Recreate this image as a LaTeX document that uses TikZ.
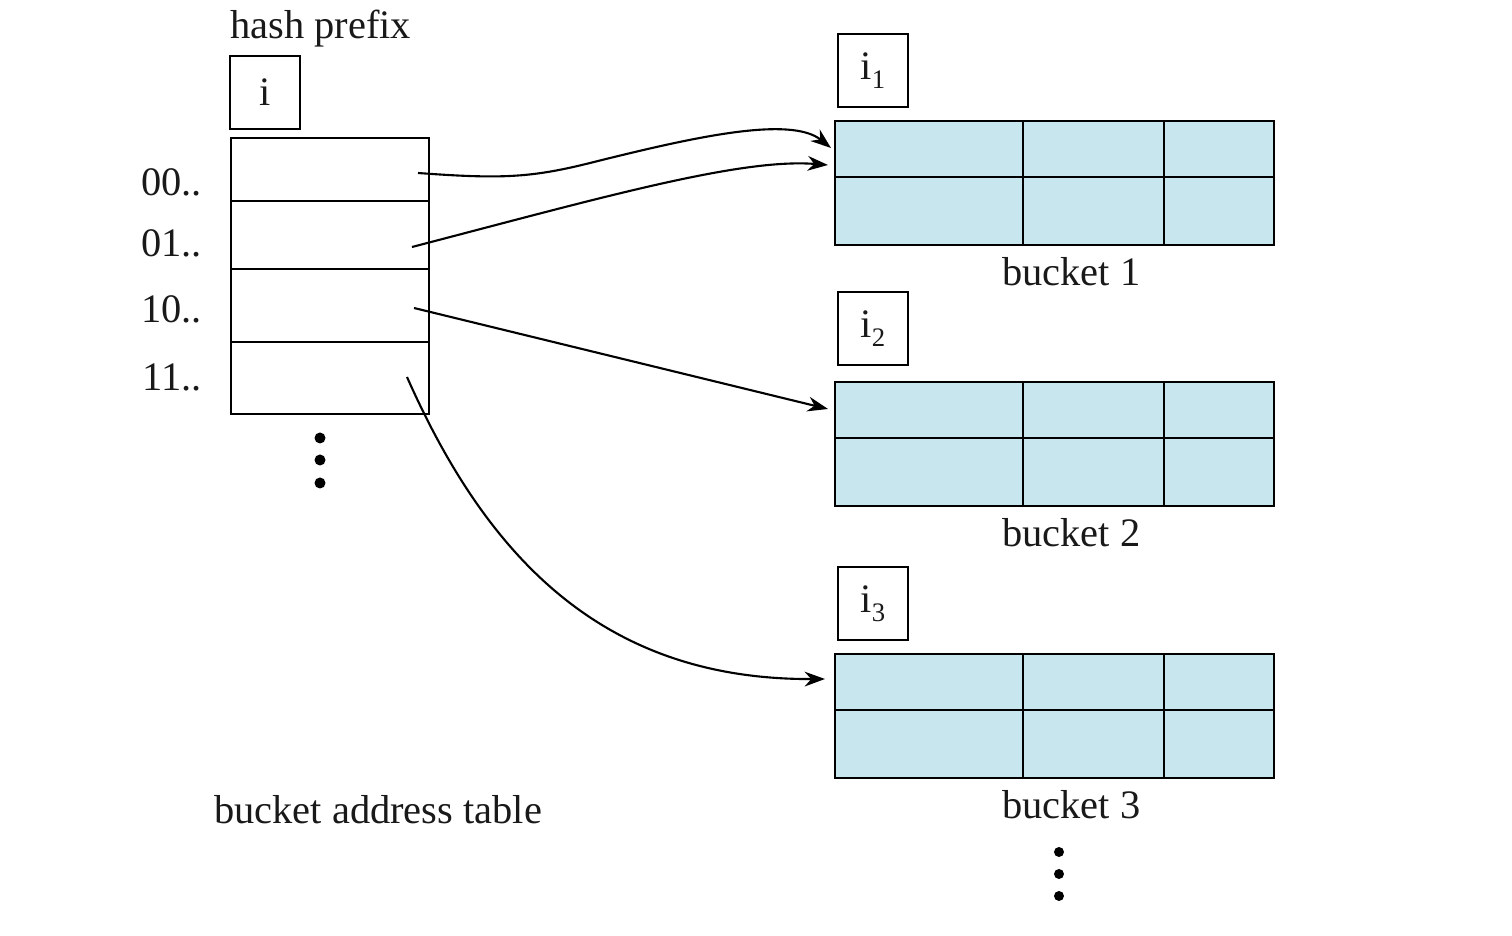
\documentclass[tikz,border=0pt]{standalone}
\usepackage{fontspec}
\setmainfont{Liberation Serif}
\usetikzlibrary{arrows.meta}
\definecolor{bucketblue}{RGB}{200,230,238}
\newcommand{\isub}[1]{i\raisebox{-2.6pt}{\fontsize{7.6}{9}\selectfont #1}}
\begin{document}
\begin{tikzpicture}[line width=0.7pt,
		every node/.style={font=\fontsize{11.5}{13.8}\selectfont, text=black!90, inner sep=0pt},
		ibox/.style={draw, minimum width=0.70cm, minimum height=0.73cm},
		bucket/.style={draw, fill=bucketblue, minimum width=4.39cm, minimum height=1.24cm, anchor=north west},
		link/.style={-{Stealth[length=5.8pt, width=4.2pt]}, line width=0.6pt}]
		\useasboundingbox (0, 0) rectangle (15.12, -9.36);
		% bucket address table
		\node[anchor=base west] (prefix) at (2.29, -0.39) {hash prefix};
		\node[ibox] (iglob) at (2.65, -0.925) {i};
		\node[draw, minimum width=1.98cm, minimum height=2.76cm, anchor=north west] (tab) at (2.30, -1.37) {};
		\foreach \y in {2.01, 2.69, 3.42}
			\draw (2.30, -\y) -- (4.28, -\y);
		\foreach \lab/\b in {00../1.96, 01../2.57, 10../3.23, 11../3.91}
			\node[anchor=base east] (row\lab) at (2.03, -\b) {\lab};
		\foreach \y in {4.38, 4.60, 4.83}
			\fill (3.20, -\y) circle (0.055);
		\node[anchor=base west] (tabname) at (2.13, -8.24) {bucket address table};
		% buckets
		\foreach \k/\t/\c in {1/1.20/0.705, 2/3.81/3.285, 3/6.53/6.035} {
			\node[bucket] (b\k) at (8.34, -\t) {};
			\draw (10.23, -\t) -- (10.23, {-\t-1.24});
			\draw (11.64, -\t) -- (11.64, {-\t-1.24});
			\draw (8.34, {-\t-0.57}) -- (12.73, {-\t-0.57});
			\node[ibox] (i\k) at (8.73, -\c) {\isub{\k}};
			\node[anchor=base west] (lab\k) at (10.01, {-\t-1.66}) {bucket \k};
		}
		\foreach \y in {8.52, 8.74, 8.96}
			\fill (10.59, -\y) circle (0.05);
		% pointers
		\coordinate (s00) at (4.18, -1.73);
		\coordinate (s01) at (4.12, -2.47);
		\coordinate (s10) at (4.14, -3.08);
		\coordinate (s11) at (4.07, -3.77);
		\coordinate (t00) at (8.31, -1.48);
		\coordinate (t01) at (8.28, -1.65);
		\coordinate (t10) at (8.28, -4.09);
		\coordinate (t11) at (8.25, -6.79);
		\draw[link] (s00) .. controls (5.0, -1.79) and (5.3, -1.78) .. (5.9, -1.63) .. controls (6.9, -1.38) and (7.9, -1.15) .. (t00);
		\draw[link] (s01) .. controls (6.0, -1.98) and (7.4, -1.58) .. (t01);
		\draw[link] (s10) -- (t10);
		\draw[link] (s11) .. controls (4.88, -5.60) and (6.05, -6.80) .. (t11);
	\end{tikzpicture}
\end{document}
